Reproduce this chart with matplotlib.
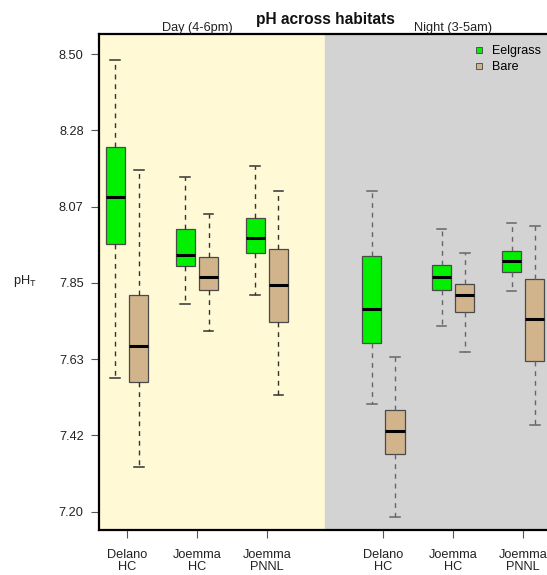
import matplotlib
matplotlib.use("Agg")
import matplotlib.pyplot as plt
from matplotlib.lines import Line2D

plt.rcParams["font.family"] = ["Liberation Sans", "DejaVu Sans"]

# ---- pH summary stats (whisker low, Q1, median, Q3, whisker high) ----
sites = ["Delano\nHC", "Joemma\nHC", "Joemma\nPNNL"]

day_eelgrass = [
    [7.581, 7.961, 8.095, 8.235, 8.484],
    [7.789, 7.898, 7.930, 8.002, 8.152],
    [7.815, 7.936, 7.978, 8.034, 8.183],
]
day_bare = [
    [7.326, 7.568, 7.670, 7.815, 8.171],
    [7.713, 7.830, 7.866, 7.923, 8.045],
    [7.532, 7.740, 7.845, 7.947, 8.112],
]
night_eelgrass = [
    [7.505, 7.679, 7.776, 7.926, 8.112],
    [7.728, 7.830, 7.867, 7.901, 8.004],
    [7.828, 7.882, 7.913, 7.941, 8.020],
]
night_bare = [
    [7.186, 7.364, 7.428, 7.488, 7.640],
    [7.653, 7.766, 7.815, 7.846, 7.934],
    [7.445, 7.628, 7.747, 7.861, 8.011],
]

day_pos = [1, 4, 7]
night_pos = [12, 15, 18]
yticks = [7.20, 7.4167, 7.6333, 7.85, 8.0667, 8.2833, 8.50]

GREEN = "#00F000"
TAN = "#D2B48C"


def to_stats(rows):
    return [dict(whislo=r[0], q1=r[1], med=r[2], q3=r[3], whishi=r[4]) for r in rows]


W, H = 547, 575
fig = plt.figure(figsize=(W / 100, H / 100), dpi=100)
ax = fig.add_axes([99 / W, 1 - 530 / H, 461 / W, (530 - 34) / H])
ax.set_xlim(0.3, 20.08)
ax.set_ylim(7.148, 8.557)

# day / night background
ax.axvspan(0.3, 10, color="#FFF9D5", zorder=0)
ax.axvspan(10, 20.08, color="#D3D3D3", zorder=0)


def draw(rows, pos, face, wcol):
    ax.bxp(to_stats(rows), positions=pos, widths=0.82, showfliers=False,
           patch_artist=True, capwidths=0.42,
           boxprops=dict(facecolor=face, edgecolor="#4a4a4a", lw=0.9),
           medianprops=dict(color="black", lw=2.2),
           whiskerprops=dict(color=wcol, lw=1.0, linestyle=(0, (3.5, 3.5))),
           capprops=dict(color=wcol, lw=1.1), zorder=3)


draw(day_eelgrass, day_pos, GREEN, "#333333")
draw(day_bare, [p + 1 for p in day_pos], TAN, "#333333")
draw(night_eelgrass, night_pos, GREEN, "#666666")
draw(night_bare, [p + 1 for p in night_pos], TAN, "#666666")

ax.set_xticks([p + 0.5 for p in day_pos + night_pos])
ax.set_xticklabels(sites + sites, fontsize=9.2, color="#222222", linespacing=1.0)
ax.set_yticks(yticks)
ax.set_yticklabels([f"{v:.2f}" for v in yticks], fontsize=9.2, color="#222222")
ax.tick_params(axis="both", length=6, width=0.8, color="#555555", direction="out")
ax.tick_params(axis="x", pad=8)
ax.tick_params(axis="y", pad=5)

for side in ["left", "top", "bottom"]:
    ax.spines[side].set_linewidth(1.6)
    ax.spines[side].set_color("black")
ax.spines["right"].set_visible(False)

# titles
ax.text(10, 8.598, "pH across habitats", ha="center", va="center",
        fontsize=11.2, fontweight="bold", color="#111111")
ax.text(4.5, 8.575, "Day (4-6pm)", ha="center", va="center", fontsize=9.2, color="#222222")
ax.text(15.5, 8.575, "Night (3-5am)", ha="center", va="center", fontsize=9.2, color="#222222")
fig.text(25 / W, 1 - 281 / H, r"pH$_\mathregular{T}$", ha="center", va="center",
         fontsize=9.2, color="#222222")

handles = [
    Line2D([], [], marker="s", ls="none", markersize=5, markerfacecolor=GREEN,
           markeredgecolor="#555555", markeredgewidth=0.7),
    Line2D([], [], marker="s", ls="none", markersize=5, markerfacecolor=TAN,
           markeredgecolor="#555555", markeredgewidth=0.7),
]
fig.legend(handles, ["Eelgrass", "Bare"], loc="upper left", frameon=False,
           bbox_to_anchor=(474 / W, 1 - 45 / H), fontsize=9, handlelength=0.8,
           handletextpad=0.65, labelspacing=0.32, borderaxespad=0, borderpad=0)

fig.savefig("out.png", dpi=100)
